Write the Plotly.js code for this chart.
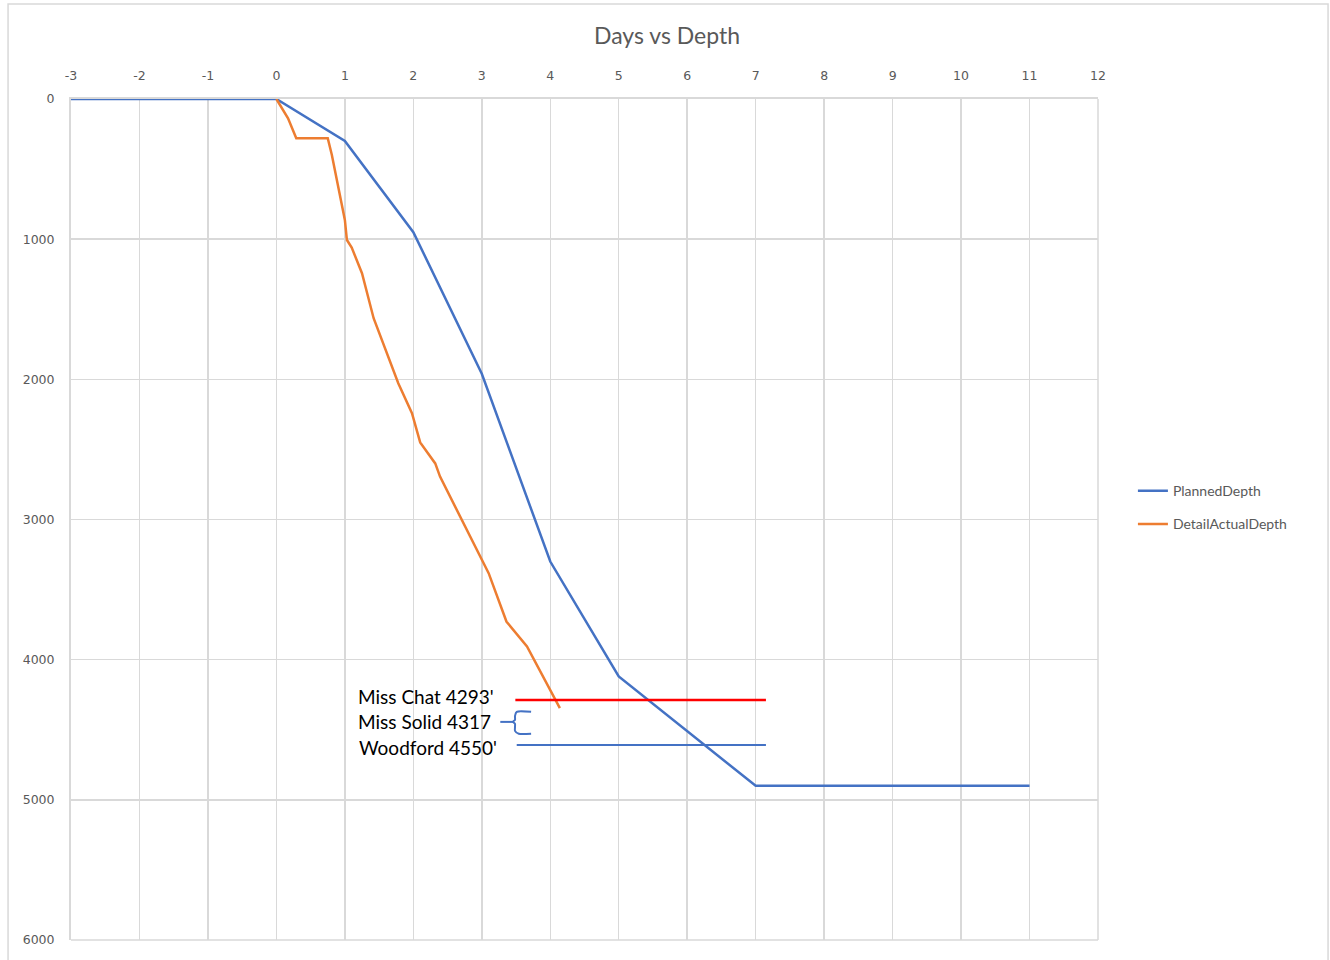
<!DOCTYPE html>
<html>
<head>
<meta charset="utf-8">
<script src="https://cdn.plot.ly/plotly-3.0.1.min.js"></script>
<style>html,body{margin:0;padding:0;background:#fff;}#chart{width:1330px;height:960px;}</style>
</head>
<body>
<div id="chart"></div>
<script>
// Planned depth series
const plannedDays  = [-3, 0, 1, 2, 3, 4, 5, 7, 11];
const plannedDepth = [0, 0, 300, 950, 1960, 3300, 4120, 4900, 4900];

// Detail actual depth series
const actualDays  = [0, 0.17, 0.29, 0.75, 0.81, 1.0, 1.03, 1.1, 1.25, 1.42, 1.78, 1.98, 2.1, 2.32, 2.39, 2.97, 3.1, 3.36, 3.66, 4.14];
const actualDepth = [0, 138, 280, 280, 400, 863, 1006, 1060, 1243, 1564, 2028, 2242, 2450, 2600, 2694, 3265, 3383, 3728, 3906, 4346];

// Formation markers (hand drawn on the reference)
const chatDays  = [3.49, 7.15];
const chatDepth = [4287, 4287];
const woodfordDays  = [3.51, 7.15];
const woodfordDepth = [4608, 4608];
const solidDashDays  = [3.27, 3.46];
const solidDashDepth = [4444, 4444];
const braceDays  = [3.72, 3.51, 3.485, 3.485, 3.456, 3.485, 3.485, 3.54, 3.72];
const braceDepth = [4372, 4372, 4401, 4429, 4444, 4458, 4508, 4529, 4529];

const labelText  = ["Miss Chat 4293'", "Miss Solid 4317", "Woodford 4550'"];
const labelDays  = [3.21, 3.165, 3.255];
const labelDepth = [4260, 4440, 4630];

const xTicks = [-3, -2, -1, 0, 1, 2, 3, 4, 5, 6, 7, 8, 9, 10, 11, 12];
const yTicks = [0, 1000, 2000, 3000, 4000, 5000, 6000];

const traces = [
  {x: plannedDays, y: plannedDepth, name: 'PlannedDepth', mode: 'lines', legendgroup: 'p',
   line: {color: '#4472C4', width: 2.5}},
  {x: actualDays, y: actualDepth, name: 'DetailActualDepth', mode: 'lines', legendgroup: 'a',
   line: {color: '#ED7D31', width: 2.5}},
  {x: chatDays, y: chatDepth, mode: 'lines', showlegend: false, hoverinfo: 'skip',
   line: {color: '#FF0000', width: 2.5}},
  {x: woodfordDays, y: woodfordDepth, mode: 'lines', showlegend: false, hoverinfo: 'skip',
   line: {color: '#4472C4', width: 2}},
  {x: solidDashDays, y: solidDashDepth, mode: 'lines', showlegend: false, hoverinfo: 'skip',
   line: {color: '#4472C4', width: 2}},
  {x: braceDays, y: braceDepth, mode: 'lines', showlegend: false, hoverinfo: 'skip',
   line: {color: '#4472C4', width: 2, shape: 'spline', smoothing: 0.6}}
];

const annotations = labelText.map((t, i) => ({
  x: labelDays[i], y: labelDepth[i], xref: 'x', yref: 'y', text: t,
  showarrow: false, xanchor: 'right', yanchor: 'middle',
  font: {family: 'Lato, Liberation Sans, sans-serif', size: 19, color: '#000'}
}));

const layout = {
  width: 1330, height: 960,
  margin: {l: 71, r: 232, t: 99, b: 20},
  paper_bgcolor: '#fff', plot_bgcolor: '#fff',
  title: {text: 'Days vs Depth', x: 0.5015, xref: 'container', xanchor: 'center', y: 0.963, yanchor: 'middle',
          font: {family: 'Lato, Open Sans, sans-serif', size: 23, color: '#595959'}},
  xaxis: {range: [-3, 12], side: 'top', tickvals: xTicks, ticktext: xTicks.map(String),
          showgrid: true, gridcolor: '#d9d9d9', gridwidth: 1.5, zeroline: false,
          showline: true, linecolor: '#d9d9d9', linewidth: 2, mirror: false, ticks: '',
          ticklabelstandoff: 12,
          tickfont: {family: 'DejaVu Sans, sans-serif', size: 12.5, color: '#595959'}, fixedrange: true},
  yaxis: {range: [6000, 0], tickvals: yTicks, ticktext: yTicks.map(String),
          showgrid: true, gridcolor: '#d9d9d9', gridwidth: 1.5, zeroline: false,
          showline: true, linecolor: '#d9d9d9', linewidth: 2, ticks: '', ticklen: 0,
          ticklabelstandoff: 12,
          tickfont: {family: 'DejaVu Sans, sans-serif', size: 12.5, color: '#595959'}, fixedrange: true},
  legend: {x: 1.034, y: 0.514, xanchor: 'left', yanchor: 'middle', bgcolor: 'rgba(0,0,0,0)',
           font: {family: 'Lato, Open Sans, sans-serif', size: 14, color: '#595959'},
           tracegroupgap: 12},
  showlegend: true,
  annotations: annotations,
  shapes: [
    {type: 'rect', xref: 'paper', yref: 'paper', x0: -0.0613, x1: 1.224, y0: -0.05, y1: 1.113,
     line: {color: '#d9d9d9', width: 1.5}, fillcolor: 'rgba(0,0,0,0)', layer: 'below'},
    {type: 'line', xref: 'paper', yref: 'paper', x0: 1, x1: 1, y0: 0, y1: 1,
     line: {color: '#d9d9d9', width: 1.5}},
    {type: 'line', xref: 'paper', yref: 'paper', x0: 0, x1: 1, y0: 0, y1: 0,
     line: {color: '#d9d9d9', width: 1.5}}
  ]
};

Plotly.newPlot('chart', traces, layout, {displayModeBar: false, staticPlot: true});
</script>
</body>
</html>
